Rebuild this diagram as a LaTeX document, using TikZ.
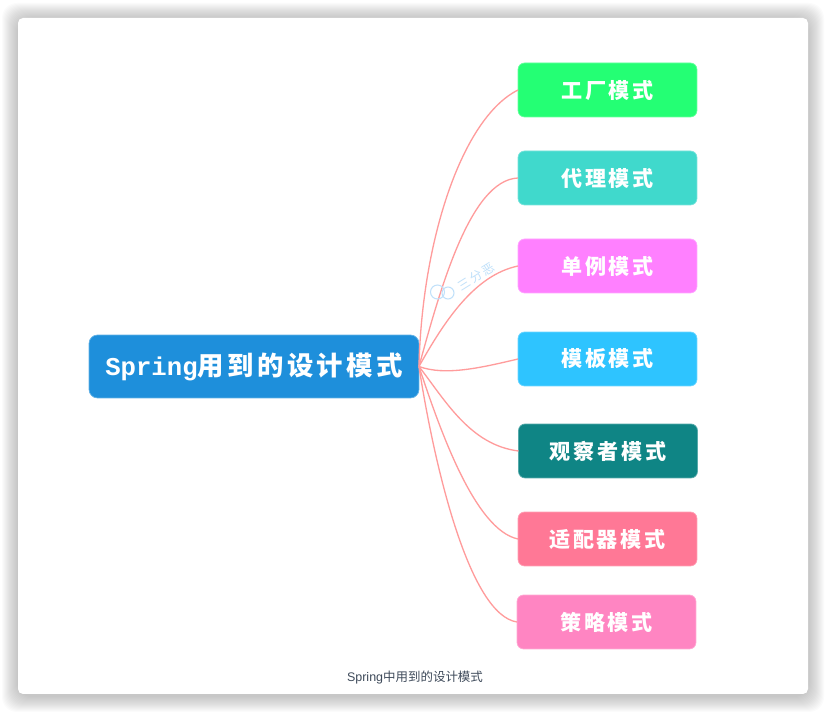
\documentclass[tikz,border=0pt]{standalone}
\usepackage{fontspec}
\setmainfont{Liberation Sans}
\newfontfamily\cjk{Noto Sans CJK SC}
\newfontfamily\cjkwide[LetterSpace=13]{Noto Sans CJK SC}
\newfontfamily\monowide{Liberation Mono}
\definecolor{linkred}{HTML}{FF9C9C}
\definecolor{markblue}{HTML}{BFE0FA}
\definecolor{captiongray}{HTML}{3E4A5A}
\definecolor{rootblue}{HTML}{1E8FDB}
\definecolor{factorygreen}{HTML}{24FF74}
\definecolor{proxyteal}{HTML}{40D9CC}
\definecolor{singlepink}{HTML}{FF80FF}
\definecolor{templateblue}{HTML}{2EC4FF}
\definecolor{observerteal}{HTML}{0F8585}
\definecolor{adapterred}{HTML}{FF7896}
\definecolor{strategypink}{HTML}{FF85C2}
\tikzset{
  itembox/.style={draw=#1!70!white,line width=0.4pt,fill=#1,rounded corners=0.13cm,
    minimum width=3.58cm,minimum height=1.08cm,inner sep=0pt,outer sep=0pt,
    text=white,font=\fontsize{12}{14}\selectfont\cjkwide\bfseries},
  rootbox/.style={draw=rootblue!70!white,line width=0.4pt,fill=rootblue,rounded corners=0.17cm,
    minimum width=6.6cm,minimum height=1.26cm,inner sep=0pt,outer sep=0pt,
    text=white,font=\fontsize{14.6}{17}\selectfont\bfseries},
  link/.style={draw=linkred,line width=0.75pt}
}
\begin{document}
\begin{tikzpicture}[x=0.02cm,y=-0.02cm]
\useasboundingbox (0,0) rectangle (826,712);

% card with its soft shadow
\foreach \r in {1,...,16}
  \fill[black,opacity=0.014,rounded corners=0.3cm] (18-\r,18-\r+1) rectangle (808+\r,694+\r+2);
\fill[white,rounded corners=0.1cm] (18,18) rectangle (808,694);

\node[rootbox] (root) at (254,366.5) {{\monowide Spring}{\fontsize{15}{17}\selectfont\cjkwide 用到的设计模式}};

\node[itembox=factorygreen] (factory) at (607.5,90) {工厂模式};
\node[itembox=proxyteal] (proxy) at (607.5,178) {代理模式};
\node[itembox=singlepink] (single) at (607.5,266) {单例模式};
\node[itembox=templateblue] (template) at (607.5,359) {模板模式};
\node[itembox=observerteal] (observer) at (608,451) {观察者模式};
\node[itembox=adapterred] (adapter) at (607.5,539) {适配器模式};
\node[itembox=strategypink] (strategy) at (606.5,622) {策略模式};

\draw[link] (root.east) .. controls (422,240) and (462,118) .. (factory.west);
\draw[link] (root.east) .. controls (440,290) and (470,180) .. (proxy.west);
\draw[link] (root.east) .. controls (445,320) and (475,275) .. (single.west);
\draw[link] (root.east) .. controls (445,376) and (480,368) .. (template.west);
\draw[link] (root.east) .. controls (445,400) and (470,445) .. (observer.west);
\draw[link] (root.east) .. controls (440,430) and (475,530) .. (adapter.west);
\draw[link] (root.east) .. controls (435,470) and (470,615) .. (strategy.west);

% watermark
\draw[markblue,line width=0.6pt] (437.5,292) circle (7);
\draw[markblue,line width=0.6pt] (448,293) circle (6);
\node[markblue,rotate=32,inner sep=0pt,font=\fontsize{7}{8}\selectfont\cjk] (mark) at (476,276.5) {三\,分\,恶};

\node[text=captiongray,inner sep=0pt,font=\fontsize{7.1}{9}\selectfont] (caption) at (415,678) {Spring{\cjk 中用到的设计模式}};
\end{tikzpicture}
\end{document}
